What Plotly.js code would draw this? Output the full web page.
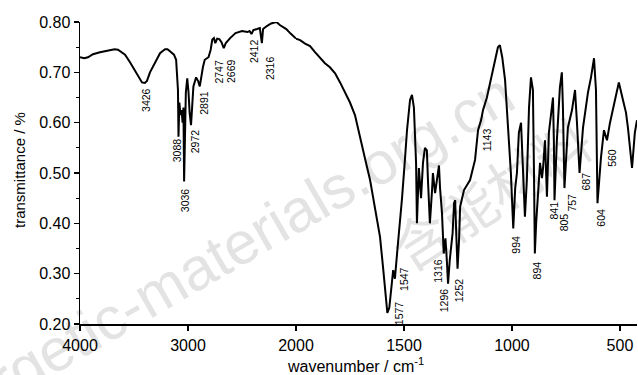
<!DOCTYPE html>
<html>
<head>
<meta charset="utf-8">
<script src="https://cdn.plot.ly/plotly-3.0.1.min.js"></script>
<style>
  html, body { margin: 0; padding: 0; background: #ffffff; }
  #wrap { position: relative; width: 638px; height: 375px; overflow: hidden; }
  #chart { position: absolute; left: 0; top: 0; width: 638px; height: 375px; z-index: 1; }
  .wm { position: absolute; z-index: 0; white-space: nowrap; color: #e3e3e3; }
</style>
</head>
<body>
<div id="wrap">
  <div class="wm" style="left:208px; top:262px; font: 60px 'Liberation Sans', Arial, sans-serif; transform: translate(-50%, -50%) rotate(-30deg);">energetic-materials.org.cn</div>
  <div class="wm" style="left:490px; top:192px; font: 56px 'Noto Sans CJK SC', sans-serif; transform: translate(-50%, -50%) rotate(-33deg);">含能材料</div>
  <div id="chart"></div>
</div>
<script>
// ---- data ----
const wavenumber = [
  4000, 3960, 3926, 3880, 3815, 3760, 3722, 3680, 3648, 3610, 3583, 3537, 3491, 3444, 3426, 3400, 3380,
  3352, 3306, 3259, 3213, 3190, 3167, 3130, 3110, 3100, 3093, 3088, 3080, 3070, 3060, 3050, 3042, 3036,
  3030, 3020, 3007, 2995, 2985, 2972, 2962, 2950, 2925, 2905, 2891, 2880, 2862, 2845, 2810, 2790, 2775,
  2760, 2747, 2730, 2710, 2690, 2669, 2650, 2610, 2560, 2500, 2450, 2430, 2412, 2395, 2360, 2335, 2316,
  2305, 2270, 2230, 2200, 2180, 2150, 2120, 2090, 2050, 2000,
  1981, 1958, 1935, 1912, 1889, 1866, 1843, 1819, 1796, 1773, 1750, 1727, 1704, 1681, 1657, 1634, 1611,
  1597, 1583, 1577, 1568, 1560, 1556, 1550, 1547, 1542, 1532, 1519, 1509, 1495, 1486, 1472, 1463, 1454,
  1444, 1440, 1435, 1431, 1421, 1417, 1412, 1403, 1394, 1389, 1380, 1370, 1366, 1356, 1347, 1338, 1333,
  1324, 1316, 1308, 1302, 1296, 1288, 1283, 1275, 1268, 1263, 1258, 1252, 1245, 1240, 1222, 1194, 1171,
  1157, 1143, 1134, 1116, 1088, 1065, 1056, 1045, 1032, 1019, 1005, 994, 985, 977, 968, 958, 949, 940,
  931, 921, 912, 903, 898, 894, 888, 880, 870, 861, 856, 847, 842, 838, 829, 815, 810, 806, 803, 792,
  778, 769, 764, 757, 741, 722, 708, 699, 687, 671, 657, 648, 634, 620, 611, 604, 588, 574, 560, 546,
  523, 505, 486, 472, 463, 444, 431, 421
];
const transmittance = [
  0.730, 0.728, 0.730, 0.736, 0.740, 0.743, 0.745, 0.746, 0.745, 0.740, 0.735, 0.720, 0.703, 0.687, 0.680, 0.679, 0.683,
  0.700, 0.720, 0.738, 0.746, 0.746, 0.742, 0.735, 0.725, 0.680, 0.665, 0.572, 0.640, 0.615, 0.625, 0.600, 0.630, 0.483,
  0.560, 0.660, 0.688, 0.660, 0.620, 0.595, 0.630, 0.672, 0.690, 0.682, 0.672, 0.690, 0.710, 0.725, 0.730, 0.745, 0.765,
  0.768, 0.758, 0.767, 0.766, 0.760, 0.748, 0.758, 0.768, 0.778, 0.782, 0.780, 0.782, 0.776, 0.784, 0.786, 0.788, 0.758,
  0.786, 0.792, 0.797, 0.799, 0.800, 0.794, 0.790, 0.786, 0.777, 0.767,
  0.764, 0.757, 0.752, 0.740, 0.728, 0.718, 0.710, 0.698, 0.680, 0.660, 0.640, 0.615, 0.570, 0.530, 0.486, 0.433, 0.373,
  0.313, 0.245, 0.222, 0.232, 0.262, 0.287, 0.307, 0.300, 0.290, 0.340, 0.400, 0.450, 0.530, 0.585, 0.645, 0.655, 0.630,
  0.520, 0.400, 0.486, 0.510, 0.450, 0.500, 0.520, 0.550, 0.545, 0.486, 0.400, 0.466, 0.500, 0.460, 0.486, 0.515, 0.470,
  0.420, 0.340, 0.370, 0.330, 0.280, 0.327, 0.353, 0.380, 0.440, 0.446, 0.380, 0.310, 0.367, 0.433, 0.466, 0.486, 0.526,
  0.585, 0.605, 0.625, 0.650, 0.705, 0.750, 0.754, 0.730, 0.685, 0.600, 0.500, 0.390, 0.470, 0.500, 0.580, 0.600, 0.500, 0.413,
  0.486, 0.630, 0.690, 0.665, 0.500, 0.340, 0.400, 0.446, 0.520, 0.490, 0.510, 0.565, 0.500, 0.453, 0.580, 0.640, 0.650, 0.565, 0.446, 0.565,
  0.670, 0.700, 0.630, 0.470, 0.590, 0.625, 0.665, 0.600, 0.500, 0.590, 0.640, 0.660, 0.690, 0.728, 0.665, 0.440, 0.530, 0.585, 0.565, 0.600,
  0.645, 0.680, 0.645, 0.620, 0.590, 0.510, 0.580, 0.605
];
const peakLabels = [3426, 3088, 3036, 2972, 2891, 2747, 2669, 2412, 2316,
                    1577, 1547, 1316, 1296, 1252, 1143, 994, 894, 841, 805, 757, 687, 604, 560];
const yTickValues = [0.20, 0.30, 0.40, 0.50, 0.60, 0.70, 0.80];
const xTicksHigh = [4000, 3000, 2000];
const xTicksLow = [1500, 1000, 500];

// ---- label placement (layout only: pixel shift and top of label in y units) ----
const labelShift = [4, -2, 1, 4, 4, 4, 7, 2.5, 8,
                    11, 10, -6, -4, 1.5, 5.5, 2.5, 2.5, 8, 10, 8, 6, 4, 5];
const labelTop = [0.671, 0.570, 0.472, 0.589, 0.665, 0.728, 0.728, 0.768, 0.734,
                  0.248, 0.315, 0.331, 0.273, 0.293, 0.591, 0.377, 0.327, 0.446, 0.422, 0.462, 0.502, 0.432, 0.550];

const BREAK = 2000;
const hiX = [], hiY = [], loX = [], loY = [];
wavenumber.forEach((w, i) => {
  if (w >= BREAK) { hiX.push(w); hiY.push(transmittance[i]); }
  if (w <= BREAK) { loX.push(w); loY.push(transmittance[i]); }
});

const FONT = "'Liberation Sans', Arial, sans-serif";
const lineStyle = { color: '#000000', width: 2 };

const traces = [
  { x: hiX, y: hiY, xaxis: 'x', yaxis: 'y', type: 'scatter', mode: 'lines', line: lineStyle, cliponaxis: false, hoverinfo: 'skip' },
  { x: loX, y: loY, xaxis: 'x2', yaxis: 'y', type: 'scatter', mode: 'lines', line: lineStyle, cliponaxis: false, hoverinfo: 'skip' }
];

const split = 216 / 557;
const axisCommon = {
  showgrid: false, zeroline: false, showline: true, linecolor: '#000000', linewidth: 1.5,
  ticks: 'outside', ticklen: 5, tickwidth: 1.2, tickcolor: '#000000',
  tickfont: { family: FONT, size: 16, color: '#000000' }
};

const annotations = peakLabels.map((p, i) => ({
  x: p, y: labelTop[i], xref: p > BREAK ? 'x' : 'x2', yref: 'y',
  text: String(p), showarrow: false, textangle: -90,
  xanchor: 'center', yanchor: 'top', xshift: labelShift[i],
  font: { family: FONT, size: 10.5, color: '#000000' }, borderpad: 0
}));
annotations.push({
  x: -0.1077, y: 0.51, xref: 'paper', yref: 'paper', showarrow: false, textangle: -90,
  xanchor: 'center', yanchor: 'middle', text: 'transmittance / %',
  font: { family: FONT, size: 15, color: '#000000' }
});
annotations.push({
  x: 0.4955, y: -0.136, xref: 'paper', yref: 'paper', showarrow: false,
  xanchor: 'center', yanchor: 'middle', text: 'wavenumber / cm<sup>-1</sup>',
  font: { family: FONT, size: 16, color: '#000000' }
});

const layout = {
  width: 638, height: 375,
  margin: { l: 80, r: 1, t: 22, b: 51, pad: 0 },
  paper_bgcolor: 'rgba(0,0,0,0)', plot_bgcolor: 'rgba(0,0,0,0)',
  showlegend: false,
  xaxis: Object.assign({}, axisCommon, { domain: [0, split], range: [4000, BREAK], anchor: 'y',
    tickmode: 'array', tickvals: xTicksHigh, ticktext: xTicksHigh.map(String), ticklabelstandoff: 1 }),
  xaxis2: Object.assign({}, axisCommon, { domain: [split, 1], range: [BREAK, 421], anchor: 'y',
    tickmode: 'array', tickvals: xTicksLow, ticktext: xTicksLow.map(String), ticklabelstandoff: 1 }),
  yaxis: Object.assign({}, axisCommon, { range: [0.2, 0.8], anchor: 'x',
    tickmode: 'array', tickvals: yTickValues, ticktext: yTickValues.map(v => v.toFixed(2)),
    minor: { dtick: 0.05, tick0: 0.2, ticks: 'outside', ticklen: 3, tickwidth: 1, tickcolor: '#000000' } }),
  annotations: annotations
};

Plotly.newPlot('chart', traces, layout, { staticPlot: true, displayModeBar: false });
</script>
</body>
</html>
